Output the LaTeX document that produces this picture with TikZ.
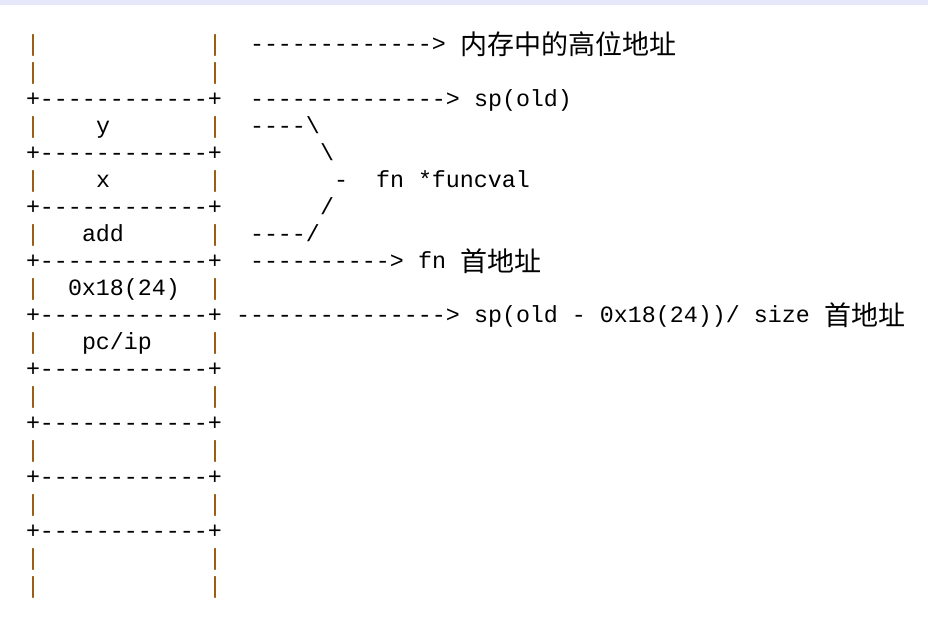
\documentclass[tikz,border=0pt]{standalone}
\usepackage{fontspec}
\setmonofont{Liberation Mono}
\newfontfamily\cjk{Noto Sans CJK SC}
\definecolor{barbrown}{RGB}{150,85,10}
\definecolor{band}{RGB}{230,232,250}
\tikzset{
  mono/.style={font=\ttfamily\fontsize{23.33}{28}\selectfont, anchor=base west, inner sep=0pt, outer sep=0pt},
  bar/.style={mono, text=barbrown},
  han/.style={font=\cjk\fontsize{27}{30}\selectfont, anchor=base west, inner sep=0pt, outer sep=0pt, yshift=-3pt}
}
\begin{document}
\begin{tikzpicture}[x=1pt,y=1pt]
\useasboundingbox (0,0) rectangle (928,-628);
\fill[band] (0,0) rectangle (928,-5);

\begin{scope}[x=14pt,y=-27.05pt,shift={(26pt,-52pt)}]
% stack column
\foreach \r in {0,1,3,5,7,9,11,13,15,17,19,20}
         {
           \node[bar] (lb\r) at (0,\r) {|};
           \node[bar] (rb\r) at (13,\r) {|};
         }
\foreach \r in {2,4,...,18}
         {
           \node[mono] (sep\r) at (0,\r) {+------------+};
         }

\node[mono] (y) at (5,3) {y};
\node[mono] (x) at (5,5) {x};
\node[mono] (add) at (4,7) {add};
\node[mono] (size) at (3,9) {0x18(24)};
\node[mono] (pcip) at (4,11) {pc/ip};

% pointers
\node[mono] (toparrow) at (16,0) {------------->};
\node[han] (high) at (31,0) {内存中的高位地址};

\node[mono] (oldarrow) at (16,2) {-------------->};
\node[mono] (spold) at (32,2) {sp(old)};

\node[mono] (brtop) at (16,3) {----\textbackslash};
\node[mono] (brup) at (21,4) {\textbackslash};
\node[mono] (brtip) at (22,5) {-};
\node[mono] (fnval) at (25,5) {fn *funcval};
\node[mono] (brdown) at (21,6) {/};
\node[mono] (brbot) at (16,7) {----/};

\node[mono] (fnarrow) at (16,8) {---------->};
\node[mono] (fn) at (28,8) {fn};
\node[han] (fnaddr) at (31,8) {首地址};

\node[mono] (newarrow) at (15,10) {--------------->};
\node[mono] (spnew) at (32,10) {sp(old - 0x18(24))/ size};
\node[han] (spaddr) at (57,10) {首地址};
\end{scope}
\end{tikzpicture}
\end{document}
